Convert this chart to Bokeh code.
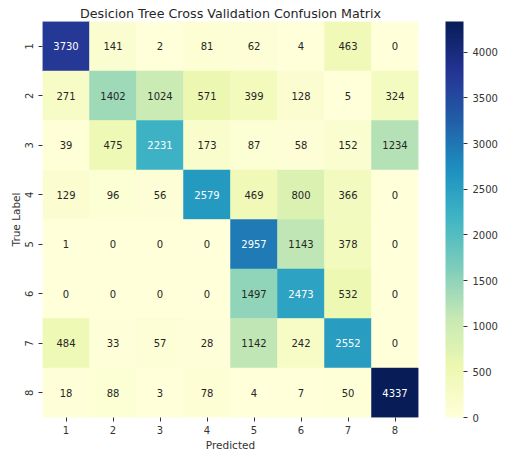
import numpy as np
from bokeh.plotting import figure
from bokeh.models import ColumnDataSource, LinearColorMapper, ColorBar, FixedTicker
from bokeh.core.properties import value
from bokeh.palettes import YlGnBu9
from bokeh.embed import file_html
from bokeh.resources import INLINE

title_text = "Desicion Tree Cross Validation Confusion Matrix"
class_labels = ["1", "2", "3", "4", "5", "6", "7", "8"]

row_1 = [3730, 141, 2, 81, 62, 4, 463, 0]
row_2 = [271, 1402, 1024, 571, 399, 128, 5, 324]
row_3 = [39, 475, 2231, 173, 87, 58, 152, 1234]
row_4 = [129, 96, 56, 2579, 469, 800, 366, 0]
row_5 = [1, 0, 0, 0, 2957, 1143, 378, 0]
row_6 = [0, 0, 0, 0, 1497, 2473, 532, 0]
row_7 = [484, 33, 57, 28, 1142, 242, 2552, 0]
row_8 = [18, 88, 3, 78, 4, 7, 50, 4337]
matrix = [row_1, row_2, row_3, row_4, row_5, row_6, row_7, row_8]

cbar_ticks = [0, 500, 1000, 1500, 2000, 2500, 3000, 3500, 4000]

FONT = "DejaVu Sans"
DARK = "#262626"

# build a smooth YlGnBu palette (low -> high)
base = list(reversed(YlGnBu9))
base_rgb = np.array([[int(h[i:i + 2], 16) for i in (1, 3, 5)] for h in base], dtype=float)
pos = np.linspace(0, 1, len(base))
tt = np.linspace(0, 1, 256)
interp = np.stack([np.interp(tt, pos, base_rgb[:, k]) for k in range(3)], axis=1)
palette = ["#%02x%02x%02x" % tuple(int(round(c)) for c in rgb) for rgb in interp]

vmin = 0
vmax = max(max(r) for r in matrix)
mapper = LinearColorMapper(palette=palette, low=vmin, high=vmax)


def rel_lum(rgb):
    c = np.array(rgb) / 255.0
    c = np.where(c <= 0.03928, c / 12.92, ((c + 0.055) / 1.055) ** 2.4)
    return 0.2126 * c[0] + 0.7152 * c[1] + 0.0722 * c[2]


xs, ys, vals, txt, tcol = [], [], [], [], []
for i, true_lab in enumerate(class_labels):
    for j, pred_lab in enumerate(class_labels):
        v = matrix[i][j]
        xs.append(pred_lab)
        ys.append(true_lab)
        vals.append(v)
        txt.append(str(v))
        idx = int(min(255, max(0, (v - vmin) / (vmax - vmin) * 256)))
        tcol.append(DARK if rel_lum(interp[idx]) > 0.408 else "white")

src = ColumnDataSource(dict(pred=xs, true=ys, val=vals, txt=txt, tc=tcol))

p = figure(
    x_range=class_labels,
    y_range=list(reversed(class_labels)),
    width=500, height=453,
    output_backend="svg", toolbar_location=None,
    min_border_left=42, min_border_right=76,
    min_border_top=21, min_border_bottom=36,
    title=title_text,
)

p.rect(x="pred", y="true", width=1, height=1, source=src,
       fill_color={"field": "val", "transform": mapper},
       line_color={"field": "val", "transform": mapper}, line_width=0.5)
p.text(x="pred", y="true", text="txt", source=src,
       text_align="center", text_baseline="middle",
       text_font=value(FONT), text_font_size="10px", text_color="tc")

p.grid.visible = False
p.outline_line_color = None

for ax in (p.xaxis[0], p.yaxis[0]):
    ax.axis_line_color = None
    ax.major_tick_in = 0
    ax.major_tick_out = 4
    ax.minor_tick_line_color = None
    ax.major_tick_line_color = "#333333"
    ax.major_label_text_font = FONT
    ax.major_label_text_font_size = "10px"
    ax.major_label_text_color = "#333333"
    ax.axis_label_text_font = FONT
    ax.axis_label_text_font_size = "10.5px"
    ax.axis_label_text_font_style = "normal"
    ax.axis_label_text_color = "#333333"

p.xaxis.axis_label = "Predicted"
p.yaxis.axis_label = "True Label"
p.xaxis.major_label_standoff = 4
p.xaxis.axis_label_standoff = 2
p.yaxis.major_label_standoff = 6
p.yaxis.axis_label_standoff = 0
p.yaxis.major_label_orientation = "vertical"

p.title.text_font = FONT
p.title.text_font_size = "12.7px"
p.title.text_font_style = "normal"
p.title.text_color = DARK
p.title.align = "center"
p.title.standoff = 2

cb = ColorBar(
    color_mapper=mapper,
    ticker=FixedTicker(ticks=cbar_ticks),
    width=18,
    padding=0, margin=0,
    location=(27, 0),
    major_tick_in=0, major_tick_out=4,
    major_tick_line_color="#333333",
    minor_tick_line_color=None,
    major_label_text_font=FONT,
    major_label_text_font_size="10px",
    major_label_text_color="#333333",
    label_standoff=5,
    bar_line_color=None, border_line_color=None,
    background_fill_color=None,
)
p.add_layout(cb, "right")

open("out.html", "w").write(file_html(p, INLINE))
